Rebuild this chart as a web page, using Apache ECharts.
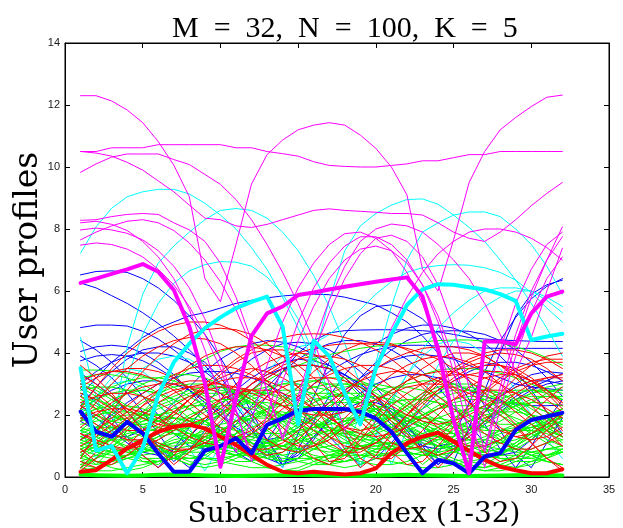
<!DOCTYPE html>
<html><head><meta charset="utf-8">
<script src="https://cdn.jsdelivr.net/npm/echarts@6/dist/echarts.min.js"></script>
<style>html,body{margin:0;padding:0;background:#fff}#c{width:623px;height:528px}</style>
</head><body><div id="c"></div>
<script>
const subcarriers = [1,2,3,4,5,6,7,8,9,10,11,12,13,14,15,16,17,18,19,20,21,22,23,24,25,26,27,28,29,30,31,32];
const xTicks = [0,5,10,15,20,25,30,35];
const yTicks = [0,2,4,6,8,10,12,14];
const titleText = 'M\u2002=\u200232,\u2002N\u2002=\u2002100,\u2002K\u2002=\u20025';
const xLabel = 'Subcarrier index (1-32)';
const yLabel = 'User profiles';

const greenProfiles = [
[0.8,0.4,0.9,1.5,2.1,2.6,3.1,3.5,3.8,4.05,4.2,4.26,4.25,4.2,4.05,3.8,3.5,3.1,2.6,2.1,1.5,0.9,0.4,0.8,1.3,1.8,2.2,2.5,2.7,2.8,2.8,2.7],
[2.0,1.7,1.3,0.9,0.5,0.4,0.8,1.2,1.6,2.0,2.4,2.8,3.1,3.4,3.6,3.8,3.95,4.05,4.15,4.22,4.28,4.32,4.36,4.4,4.42,4.42,4.38,4.32,4.2,4.05,3.85,3.6],
[3.45,3.45,3.42,3.35,3.25,3.1,2.9,2.6,2.3,1.9,1.5,1.1,0.7,0.5,0.6,0.9,1.3,1.7,2.1,2.5,2.8,3.1,3.3,3.45,3.5,3.5,3.45,3.35,3.2,3.0,2.8,2.5],
[1.5,1.9,2.3,2.7,3.0,3.2,3.3,3.3,3.2,3.0,2.7,2.3,1.9,1.4,0.9,0.5,0.4,0.7,1.1,1.5,1.9,2.2,2.5,2.7,2.8,2.8,2.7,2.5,2.2,1.9,1.5,1.1],
[2.4,2.2,2.0,1.8,1.6,1.5,1.5,1.6,1.8,2.0,2.3,2.6,2.8,3.0,3.1,3.1,3.0,2.8,2.5,2.2,1.9,1.6,1.4,1.3,1.3,1.5,1.8,2.1,2.4,2.7,2.9,3.0],
[0.6,0.9,1.2,1.5,1.8,2.0,2.2,2.3,2.3,2.2,2.0,1.8,1.5,1.2,0.9,0.7,0.6,0.7,0.9,1.2,1.5,1.8,2.0,2.2,2.3,2.3,2.2,2.0,1.7,1.4,1.1,0.8],
[1.9,1.6,1.2,0.9,0.6,0.5,0.6,0.9,1.2,1.5,1.8,2.0,2.1,2.1,2.0,1.8,1.5,1.2,0.9,0.7,0.7,0.9,1.2,1.5,1.8,2.1,2.3,2.4,2.4,2.3,2.1,1.8],
[1.1,1.3,1.5,1.7,1.8,1.9,1.9,1.8,1.6,1.4,1.1,0.8,0.6,0.5,0.6,0.9,1.2,1.6,1.9,2.2,2.4,2.5,2.5,2.4,2.2,1.9,1.6,1.3,1.0,0.8,0.7,0.8],
[2.8,2.9,2.9,2.8,2.6,2.3,1.9,1.5,1.1,0.8,0.7,0.9,1.2,1.6,2.0,2.4,2.7,2.9,3.0,3.0,2.9,2.7,2.4,2.0,1.6,1.2,0.9,0.8,0.9,1.2,1.6,2.0],
[0.3,0.6,0.9,1.2,1.4,1.6,1.7,1.7,1.6,1.5,1.3,1.1,1.0,1.0,1.1,1.3,1.5,1.7,1.9,2.0,2.0,1.9,1.7,1.5,1.2,0.9,0.6,0.4,0.3,0.4,0.6,0.9],
[1.7,1.8,1.9,2.0,2.0,2.0,1.9,1.8,1.7,1.6,1.5,1.4,1.4,1.4,1.5,1.6,1.7,1.8,1.9,2.0,2.0,2.0,1.9,1.8,1.7,1.6,1.5,1.5,1.5,1.6,1.7,1.8],
[2.2,2.5,2.7,2.8,2.8,2.7,2.5,2.2,1.8,1.4,1.0,0.7,0.6,0.8,1.1,1.5,1.9,2.3,2.6,2.8,2.9,2.9,2.8,2.6,2.3,2.0,1.6,1.2,0.9,0.7,0.7,0.9],
[0.9,0.7,0.6,0.7,0.9,1.2,1.5,1.8,2.1,2.4,2.6,2.7,2.7,2.6,2.4,2.1,1.8,1.5,1.2,1.0,0.9,0.9,1.0,1.2,1.5,1.8,2.1,2.3,2.5,2.6,2.6,2.5],
[1.3,1.1,0.9,0.8,0.8,0.9,1.1,1.3,1.5,1.7,1.8,1.9,1.9,1.8,1.7,1.5,1.3,1.1,1.0,0.9,0.9,1.0,1.2,1.4,1.6,1.8,2.0,2.1,2.1,2.0,1.9,1.7],
[2.6,2.4,2.1,1.8,1.4,1.0,0.6,0.4,0.6,1.0,1.4,1.8,2.2,2.5,2.7,2.9,3.0,3.0,2.9,2.7,2.4,2.1,1.7,1.3,0.9,0.5,0.4,0.7,1.1,1.5,1.9,2.2],
[0.5,0.4,0.5,0.7,1.0,1.3,1.6,1.9,2.2,2.4,2.6,2.8,2.9,3.0,3.0,2.9,2.8,2.6,2.3,2.0,1.6,1.2,0.9,0.6,0.5,0.6,0.9,1.2,1.5,1.8,2.0,2.2],
[1.6,1.4,1.2,1.0,0.9,0.8,0.8,0.9,1.0,1.2,1.4,1.6,1.8,2.0,2.2,2.3,2.4,2.4,2.4,2.3,2.2,2.0,1.8,1.6,1.4,1.2,1.0,0.9,0.8,0.8,0.9,1.0],
[3.0,2.8,2.5,2.2,1.9,1.6,1.4,1.3,1.3,1.4,1.6,1.9,2.2,2.4,2.6,2.7,2.7,2.6,2.4,2.1,1.8,1.5,1.3,1.2,1.2,1.4,1.7,2.0,2.3,2.5,2.6,2.6],
[0.7,1.0,1.3,1.6,1.9,2.2,2.4,2.6,2.7,2.7,2.6,2.4,2.1,1.8,1.4,1.0,0.7,0.5,0.6,0.9,1.3,1.7,2.0,2.3,2.5,2.6,2.6,2.5,2.3,2.0,1.7,1.4],
[1.2,1.4,1.6,1.7,1.7,1.6,1.4,1.2,0.9,0.7,0.5,0.5,0.7,1.0,1.3,1.6,1.9,2.1,2.2,2.2,2.1,1.9,1.6,1.3,1.0,0.8,0.7,0.8,1.0,1.3,1.6,1.8],
[2.1,1.9,1.6,1.3,1.1,1.0,1.0,1.1,1.3,1.5,1.7,1.9,2.0,2.0,1.9,1.7,1.5,1.3,1.2,1.2,1.3,1.5,1.7,1.9,2.1,2.2,2.2,2.1,1.9,1.7,1.5,1.3],
[0.4,0.3,0.4,0.6,0.8,1.0,1.2,1.3,1.4,1.4,1.3,1.2,1.1,1.0,0.9,0.9,1.0,1.1,1.3,1.5,1.7,1.8,1.9,1.9,1.8,1.6,1.4,1.2,0.9,0.7,0.5,0.4],
[1.8,2.0,2.1,2.1,2.0,1.8,1.6,1.3,1.0,0.8,0.7,0.8,1.0,1.3,1.6,1.9,2.1,2.2,2.2,2.1,1.9,1.6,1.3,1.0,0.8,0.7,0.8,1.1,1.4,1.7,1.9,2.0],
[1.0,0.8,0.7,0.7,0.8,1.0,1.3,1.6,1.9,2.1,2.3,2.4,2.4,2.3,2.1,1.9,1.6,1.3,1.0,0.8,0.7,0.7,0.8,1.0,1.3,1.6,1.9,2.1,2.3,2.4,2.4,2.3],
[2.5,2.3,2.0,1.7,1.4,1.1,0.9,0.8,0.8,0.9,1.1,1.4,1.7,2.0,2.3,2.5,2.6,2.6,2.5,2.3,2.0,1.7,1.4,1.1,0.9,0.8,0.8,0.9,1.1,1.4,1.7,2.0],
[0.2,0.3,0.5,0.7,0.9,1.0,1.1,1.1,1.0,0.9,0.7,0.5,0.3,0.2,0.3,0.5,0.7,0.9,1.0,1.1,1.1,1.0,0.9,0.7,0.5,0.3,0.2,0.3,0.5,0.7,0.9,1.0],
[1.4,1.6,1.8,1.9,1.9,1.8,1.6,1.4,1.2,1.0,0.9,0.9,1.0,1.2,1.4,1.6,1.8,1.9,1.9,1.8,1.6,1.4,1.2,1.0,0.9,0.9,1.0,1.2,1.4,1.6,1.8,1.9],
[0.6,0.5,0.5,0.6,0.7,0.8,0.9,1.0,1.0,1.0,0.9,0.8,0.7,0.6,0.6,0.6,0.7,0.8,0.9,1.0,1.1,1.1,1.1,1.0,0.9,0.8,0.7,0.6,0.6,0.6,0.7,0.8],
[2.9,2.6,2.2,1.8,1.4,1.0,0.7,0.6,0.7,1.0,1.4,1.8,2.2,2.6,2.9,3.1,3.2,3.2,3.1,2.9,2.6,2.2,1.8,1.4,1.0,0.7,0.6,0.7,1.0,1.4,1.8,2.2],
[1.5,1.3,1.0,0.8,0.6,0.6,0.7,0.9,1.2,1.5,1.8,2.0,2.2,2.3,2.3,2.2,2.0,1.8,1.5,1.2,1.0,0.8,0.7,0.7,0.8,1.0,1.2,1.5,1.7,1.9,2.0,2.0],
[0.9,1.1,1.4,1.7,2.0,2.3,2.5,2.7,2.8,2.8,2.7,2.5,2.2,1.9,1.6,1.3,1.0,0.8,0.7,0.7,0.8,1.0,1.3,1.6,1.9,2.1,2.3,2.4,2.4,2.3,2.1,1.9],
[0.3,0.2,0.2,0.3,0.4,0.5,0.6,0.6,0.6,0.5,0.4,0.3,0.3,0.4,0.5,0.6,0.7,0.7,0.7,0.6,0.5,0.4,0.3,0.3,0.4,0.5,0.6,0.7,0.7,0.6,0.5,0.4],
[2.0,2.2,2.3,2.3,2.2,2.0,1.7,1.4,1.1,0.9,0.8,0.9,1.1,1.4,1.7,2.0,2.3,2.5,2.6,2.6,2.5,2.3,2.0,1.7,1.4,1.2,1.1,1.1,1.2,1.4,1.6,1.8],
[1.1,0.9,0.8,0.9,1.1,1.4,1.7,2.0,2.2,2.3,2.3,2.2,2.0,1.7,1.4,1.1,0.9,0.8,0.9,1.1,1.4,1.7,2.0,2.2,2.4,2.5,2.5,2.4,2.2,1.9,1.6,1.3],
[3.2,3.3,3.3,3.2,3.0,2.7,2.3,1.9,1.5,1.2,1.1,1.2,1.5,1.9,2.3,2.6,2.9,3.0,3.0,2.9,2.7,2.4,2.1,1.8,1.6,1.5,1.6,1.8,2.1,2.4,2.7,2.9],
[2.3,2.6,2.9,3.1,3.2,3.2,3.1,2.9,2.6,2.2,1.8,1.4,1.1,0.9,0.9,1.1,1.4,1.8,2.2,2.5,2.8,3.0,3.1,3.1,3.0,2.8,2.5,2.2,1.8,1.5,1.2,1.0],
[1.0,1.2,1.5,1.8,2.1,2.4,2.6,2.8,2.9,2.9,2.8,2.6,2.3,2.0,1.7,1.5,1.4,1.4,1.5,1.7,2.0,2.3,2.6,2.8,2.9,2.9,2.8,2.6,2.3,2.0,1.7,1.4],
[2.7,2.5,2.3,2.1,2.0,2.0,2.1,2.3,2.5,2.7,2.8,2.8,2.7,2.5,2.2,1.9,1.6,1.4,1.3,1.4,1.6,1.9,2.2,2.5,2.7,2.8,2.8,2.7,2.5,2.2,1.9,1.6],
[1.9,2.2,2.5,2.7,2.8,2.7,2.5,2.2,1.8,1.5,1.3,1.3,1.5,1.8,2.1,2.4,2.6,2.7,2.7,2.5,2.2,1.9,1.6,1.4,1.4,1.6,1.9,2.2,2.5,2.7,2.8,2.8],
[0.5,0.7,1.0,1.3,1.6,1.8,1.9,1.9,1.8,1.6,1.3,1.0,0.8,0.7,0.8,1.0,1.3,1.6,1.8,1.9,1.9,1.8,1.6,1.3,1.0,0.8,0.7,0.8,1.0,1.3,1.5,1.7],
[3.1,2.9,2.6,2.3,2.0,1.8,1.7,1.7,1.8,2.0,2.3,2.5,2.7,2.8,2.8,2.7,2.5,2.2,1.9,1.6,1.4,1.3,1.4,1.6,1.9,2.2,2.5,2.7,2.8,2.8,2.7,2.5],
[1.3,1.5,1.8,2.1,2.4,2.7,2.9,3.0,3.0,2.9,2.7,2.4,2.0,1.6,1.2,0.9,0.8,0.9,1.2,1.6,2.0,2.4,2.7,2.9,3.0,3.0,2.9,2.7,2.4,2.0,1.6,1.3],
[2.2,2.0,1.8,1.7,1.7,1.8,2.0,2.2,2.4,2.5,2.5,2.4,2.2,2.0,1.8,1.7,1.7,1.8,2.0,2.2,2.4,2.5,2.5,2.4,2.2,2.0,1.8,1.7,1.7,1.8,2.0,2.2],
[0.8,1.0,1.2,1.4,1.5,1.5,1.4,1.2,1.0,0.8,0.7,0.7,0.8,1.0,1.2,1.4,1.5,1.5,1.4,1.2,1.0,0.8,0.7,0.7,0.8,1.0,1.2,1.4,1.5,1.5,1.4,1.2],
[0.4,0.6,0.8,0.9,0.9,0.8,0.6,0.4,0.3,0.4,0.6,0.8,0.9,0.9,0.8,0.6,0.4,0.3,0.4,0.6,0.8,0.9,0.9,0.8,0.6,0.4,0.3,0.4,0.6,0.8,0.9,0.9],
[1.2,1.0,0.8,0.6,0.5,0.5,0.6,0.8,1.0,1.2,1.3,1.3,1.2,1.0,0.8,0.6,0.5,0.5,0.6,0.8,1.0,1.2,1.3,1.3,1.2,1.0,0.8,0.6,0.5,0.5,0.6,0.8],
[0.1,0.3,0.6,0.9,1.1,1.3,1.4,1.4,1.3,1.1,0.9,0.6,0.4,0.2,0.2,0.4,0.6,0.8,1.0,1.1,1.1,1.0,0.8,0.6,0.4,0.3,0.3,0.5,0.7,0.9,1.1,1.2],
[0.7,0.5,0.3,0.2,0.3,0.5,0.7,0.9,1.1,1.2,1.2,1.1,0.9,0.7,0.5,0.4,0.4,0.5,0.7,0.9,1.0,1.0,0.9,0.7,0.5,0.3,0.2,0.2,0.3,0.5,0.7,0.9],
[1.5,1.6,1.6,1.5,1.3,1.1,0.9,0.7,0.6,0.6,0.7,0.9,1.1,1.3,1.5,1.6,1.6,1.5,1.3,1.1,0.9,0.8,0.7,0.8,0.9,1.1,1.3,1.5,1.6,1.6,1.5,1.3],
[0.9,1.1,1.2,1.2,1.1,0.9,0.7,0.5,0.4,0.5,0.7,0.9,1.1,1.2,1.2,1.1,0.9,0.7,0.5,0.4,0.4,0.5,0.7,0.9,1.1,1.2,1.2,1.1,0.9,0.7,0.5,0.4]
];

const redProfiles = [
[2.2,2.9,3.5,4.0,4.4,4.7,4.9,5.0,5.0,4.9,4.7,4.4,4.0,3.5,2.9,2.3,1.6,0.9,0.3,0.7,1.4,2.0,2.6,3.1,3.5,3.8,4.0,4.1,4.1,4.0,3.8,3.5],
[0.6,1.4,2.1,2.8,3.4,3.9,4.3,4.6,4.75,4.8,4.75,4.6,4.3,3.9,3.4,2.8,2.1,1.4,0.6,0.3,1.0,1.7,2.3,2.8,3.2,3.5,3.6,3.6,3.5,3.2,2.8,2.3],
[3.6,3.2,2.7,2.1,1.5,0.9,0.4,0.8,1.4,2.0,2.5,3.0,3.4,3.7,4.0,4.15,4.25,4.3,4.3,4.28,4.25,4.15,4.0,3.8,3.5,3.1,2.7,2.2,1.7,1.1,0.6,0.3],
[1.4,1.1,0.9,0.9,1.1,1.5,2.0,2.5,3.0,3.4,3.8,4.1,4.35,4.5,4.6,4.62,4.6,4.5,4.35,4.1,3.8,3.4,2.9,2.4,1.8,1.3,0.8,0.5,0.6,1.0,1.5,2.0],
[2.9,3.2,3.4,3.5,3.5,3.4,3.2,2.9,2.5,2.0,1.5,1.0,0.7,0.8,1.2,1.7,2.2,2.7,3.1,3.5,3.8,4.0,4.15,4.2,4.2,4.1,3.9,3.6,3.3,2.9,2.5,2.1],
[1.8,2.4,3.0,3.5,3.9,4.2,4.4,4.5,4.45,4.3,4.0,3.6,3.1,2.5,1.8,1.1,0.5,0.6,1.2,1.8,2.3,2.7,3.0,3.2,3.3,3.3,3.2,3.0,2.7,2.3,1.8,1.3],
[0.3,0.8,1.3,1.8,2.3,2.8,3.2,3.6,3.9,4.1,4.2,4.2,4.1,3.9,3.6,3.2,2.8,2.3,1.8,1.3,0.8,0.4,0.5,1.0,1.6,2.2,2.7,3.1,3.4,3.6,3.7,3.7],
[3.3,3.0,2.6,2.2,1.9,1.7,1.6,1.7,1.9,2.2,2.6,3.0,3.3,3.6,3.8,3.9,3.9,3.8,3.6,3.3,2.9,2.5,2.0,1.6,1.2,1.0,1.0,1.2,1.6,2.0,2.5,2.9],
[2.6,2.2,1.7,1.2,0.7,0.3,0.7,1.3,1.9,2.5,3.0,3.4,3.7,3.9,4.0,3.95,3.8,3.5,3.1,2.6,2.0,1.4,0.8,0.3,0.8,1.5,2.1,2.7,3.2,3.6,3.9,4.0],
[1.2,1.5,1.9,2.3,2.7,3.0,3.3,3.5,3.6,3.6,3.5,3.3,3.0,2.6,2.2,1.7,1.3,1.0,0.9,1.1,1.5,2.0,2.5,3.0,3.4,3.7,3.9,4.0,3.95,3.8,3.5,3.1],
[2.4,2.6,2.7,2.7,2.6,2.4,2.1,1.8,1.5,1.3,1.3,1.5,1.9,2.4,2.9,3.4,3.8,4.1,4.3,4.35,4.3,4.1,3.8,3.4,2.9,2.4,1.9,1.5,1.3,1.4,1.7,2.1],
[0.9,0.5,0.4,0.7,1.1,1.6,2.1,2.5,2.9,3.1,3.2,3.2,3.1,2.9,2.6,2.2,1.9,1.6,1.5,1.6,1.9,2.3,2.7,3.1,3.4,3.6,3.7,3.6,3.4,3.1,2.7,2.2],
[3.0,2.7,2.3,1.9,1.4,1.0,0.8,0.9,1.3,1.8,2.3,2.8,3.2,3.5,3.6,3.6,3.5,3.2,2.8,2.3,1.8,1.3,0.9,0.7,0.9,1.3,1.8,2.3,2.7,3.0,3.2,3.3],
[1.6,2.0,2.4,2.7,2.9,3.0,3.0,2.9,2.7,2.4,2.0,1.6,1.2,0.9,0.8,1.0,1.4,1.9,2.4,2.9,3.3,3.6,3.8,3.9,3.85,3.7,3.4,3.0,2.5,2.0,1.5,1.0],
[0.2,0.6,1.1,1.6,2.0,2.4,2.7,2.9,3.0,3.0,2.9,2.7,2.5,2.3,2.1,2.0,2.0,2.1,2.3,2.5,2.7,2.9,3.0,3.0,2.9,2.7,2.4,2.0,1.6,1.1,0.6,0.2],
[2.0,1.7,1.4,1.2,1.2,1.4,1.8,2.3,2.8,3.3,3.7,4.0,4.1,4.1,3.9,3.6,3.1,2.6,2.0,1.5,1.1,0.9,1.0,1.3,1.8,2.3,2.8,3.2,3.5,3.7,3.8,3.8],
[1.0,1.3,1.7,2.1,2.5,2.8,3.0,3.1,3.1,3.0,2.8,2.5,2.1,1.6,1.1,0.6,0.4,0.8,1.4,2.0,2.6,3.1,3.5,3.8,4.0,4.0,3.9,3.6,3.2,2.7,2.1,1.5],
[2.7,2.5,2.2,1.8,1.4,1.1,0.9,0.9,1.1,1.4,1.8,2.2,2.6,2.9,3.1,3.2,3.2,3.1,2.9,2.6,2.3,2.0,1.8,1.7,1.8,2.0,2.3,2.6,2.9,3.1,3.2,3.2],
[0.5,0.3,0.6,1.0,1.5,1.9,2.3,2.6,2.8,2.9,2.9,2.8,2.6,2.3,1.9,1.5,1.1,0.8,0.8,1.1,1.5,2.0,2.4,2.8,3.1,3.3,3.4,3.4,3.3,3.1,2.8,2.4],
[1.9,2.1,2.2,2.2,2.1,1.9,1.6,1.3,1.1,1.0,1.1,1.4,1.8,2.2,2.6,3.0,3.3,3.5,3.6,3.6,3.5,3.3,3.0,2.6,2.2,1.8,1.4,1.1,0.9,0.9,1.1,1.4],
[3.1,3.3,3.4,3.4,3.3,3.1,2.8,2.4,2.0,1.6,1.2,0.9,0.9,1.1,1.5,1.9,2.4,2.8,3.1,3.3,3.4,3.4,3.3,3.1,2.8,2.4,2.0,1.6,1.3,1.2,1.3,1.6],
[1.4,1.2,1.0,0.9,1.0,1.2,1.5,1.9,2.2,2.5,2.7,2.8,2.8,2.7,2.5,2.2,1.9,1.6,1.4,1.3,1.4,1.6,1.9,2.2,2.5,2.7,2.8,2.8,2.7,2.5,2.2,1.9],
[2.3,2.0,1.7,1.5,1.5,1.7,2.1,2.5,2.9,3.2,3.4,3.5,3.4,3.2,2.9,2.5,2.0,1.5,1.0,0.6,0.6,1.0,1.5,2.0,2.5,2.9,3.2,3.3,3.3,3.1,2.8,2.4],
[0.8,1.1,1.5,1.9,2.3,2.6,2.8,2.9,2.9,2.7,2.4,2.0,1.6,1.2,1.0,1.0,1.2,1.6,2.0,2.4,2.8,3.1,3.3,3.4,3.4,3.2,2.9,2.5,2.1,1.7,1.3,1.0]
];

const blueProfiles = [
[6.52,6.63,6.65,6.6,6.4,6.1,5.7,5.2,4.6,3.85,3.0,2.1,1.2,0.4,0.9,1.8,2.6,3.3,3.9,4.3,4.6,4.8,4.9,4.9,4.8,4.6,4.3,3.9,3.4,2.8,2.1,1.4],
[6.26,6.1,5.85,5.6,5.3,4.95,4.55,4.1,3.6,3.0,2.3,1.6,0.8,0.3,1.4,2.6,3.7,4.6,5.2,5.5,5.55,5.4,5.1,4.6,3.9,3.1,2.3,1.5,0.7,0.3,1.1,1.9],
[4.82,4.9,4.9,4.87,4.7,4.45,4.1,3.7,3.2,2.7,2.1,1.5,0.9,0.4,0.6,1.2,1.9,2.6,3.2,3.7,4.1,4.4,4.6,4.7,4.72,4.7,4.6,4.4,4.1,3.7,3.2,2.6],
[2.6,3.2,3.7,4.1,4.5,4.8,5.0,5.2,5.3,5.45,5.6,5.7,5.78,5.84,5.88,5.9,5.88,5.8,5.68,5.55,5.3,5.0,4.55,4.0,3.3,2.5,1.7,0.9,0.3,1.0,1.8,2.5],
[3.0,3.4,3.7,3.9,4.0,4.0,3.9,3.7,3.4,3.0,2.5,2.0,2.6,3.4,4.0,4.4,4.65,4.72,4.74,4.75,4.75,4.74,4.72,4.68,4.6,4.5,4.45,4.42,4.4,4.38,4.37,4.37],
[2.3,2.9,3.4,3.8,4.1,4.2,4.2,4.0,3.7,3.2,2.6,1.9,1.2,0.5,0.7,1.3,1.8,2.2,2.4,2.4,2.2,1.8,1.6,0.8,1.3,2.4,3.4,4.4,5.15,5.75,6.15,6.4],
[3.9,3.6,3.2,2.7,2.1,1.4,0.7,0.3,1.0,1.7,2.3,2.8,3.2,3.5,3.6,3.6,3.5,3.3,3.0,2.6,2.1,1.6,1.1,0.6,0.5,1.6,2.8,4.0,5.2,5.9,6.2,6.35],
[4.05,4.2,4.25,4.2,4.0,3.7,3.3,2.8,2.2,1.5,0.8,0.5,1.2,1.9,2.5,3.0,3.4,3.7,3.95,4.1,4.2,4.25,4.25,4.22,4.2,4.18,4.16,4.15,4.15,4.15,4.15,4.15],
[3.35,3.0,2.6,2.1,1.6,1.0,0.5,0.9,1.5,2.1,2.6,3.0,3.3,3.5,3.6,3.6,3.5,3.3,3.0,2.6,2.1,1.5,0.9,0.4,0.9,1.5,2.1,2.6,3.0,3.3,3.4,3.35],
[3.75,3.9,3.95,3.9,3.75,3.5,3.2,2.8,2.4,2.0,1.6,1.3,1.2,1.3,1.6,2.0,2.4,2.8,3.2,3.5,3.75,3.9,3.95,3.9,3.8,3.6,3.4,3.2,3.0,2.9,2.85,2.8],
[2.85,2.4,1.9,1.3,0.7,0.3,0.9,1.6,2.3,2.9,3.4,3.8,4.1,4.3,4.35,4.3,4.1,3.8,3.4,2.9,2.3,1.7,1.0,0.4,0.8,1.5,2.1,2.6,2.9,3.1,3.1,3.0],
[2.2,2.5,2.8,3.0,3.1,3.1,3.0,2.8,2.5,2.1,1.6,1.1,0.6,0.4,0.8,1.3,1.8,2.3,2.7,3.0,3.2,3.3,3.3,3.2,3.0,2.8,2.6,2.45,2.35,2.3,2.3,2.32],
[2.3,1.9,1.5,1.1,0.8,0.7,0.9,1.3,1.8,2.3,2.8,3.2,3.5,3.7,3.8,3.75,3.6,3.3,2.9,2.5,2.0,1.6,1.2,1.0,1.1,1.4,1.8,2.2,2.6,2.9,3.1,3.34],
[4.4,4.1,3.7,3.2,2.6,2.0,1.4,1.0,0.9,1.2,1.7,2.3,2.9,3.4,3.8,4.1,4.3,4.4,4.4,4.3,4.1,3.8,3.4,2.9,2.3,1.7,1.1,0.7,0.8,1.2,1.7,2.1],
[1.2,1.6,2.0,2.4,2.7,3.0,3.2,3.35,3.4,3.4,3.35,3.2,3.0,2.7,2.3,1.8,1.3,0.8,0.4,0.6,1.1,1.7,2.2,2.7,3.1,3.4,3.6,3.7,3.7,3.6,3.4,3.1],
[1.8,1.5,1.3,1.3,1.5,1.9,2.4,2.9,3.4,3.8,4.1,4.3,4.4,4.35,4.2,3.95,3.6,3.2,2.7,2.2,1.7,1.3,1.0,0.9,1.0,1.3,1.7,2.1,2.5,2.8,3.0,3.1]
];

const cyanProfiles = [
[7.22,8.07,8.67,9.04,9.2,9.28,9.28,9.13,8.83,8.45,8.0,7.4,6.7,5.8,4.8,3.7,2.6,1.5,0.4,1.3,2.4,3.3,4.1,4.8,5.3,5.7,6.0,6.1,6.1,6.0,5.7,5.3],
[4.5,2.6,1.4,4.2,5.9,6.9,7.45,7.9,8.3,8.6,8.66,8.6,8.35,7.9,7.3,6.5,5.5,4.3,3.0,1.6,0.4,1.5,2.6,3.6,4.4,5.0,5.5,5.8,6.0,6.0,5.8,5.5],
[0.6,1.5,2.3,3.0,3.5,3.8,3.9,3.8,3.5,3.0,2.4,1.7,0.9,0.3,1.8,3.8,5.7,7.3,8.1,8.5,8.77,8.95,8.97,8.8,8.45,8.05,7.6,7.0,6.35,5.6,4.8,3.9],
[1.8,2.6,3.2,3.5,3.4,3.0,2.4,1.6,0.7,0.5,1.4,2.2,2.8,3.1,3.0,2.6,1.8,0.9,2.0,3.7,5.5,7.0,7.9,8.2,8.45,8.55,8.55,8.4,8.0,7.5,6.8,5.9],
[2.0,2.6,3.0,3.1,2.9,2.4,1.7,0.9,0.2,1.0,1.9,2.7,3.4,3.9,4.2,4.3,4.6,5.0,5.4,5.9,6.3,6.6,6.75,6.82,6.85,6.83,6.75,6.6,6.35,5.95,5.45,5.0],
[1.5,0.6,1.6,3.2,4.6,5.6,6.25,6.65,6.85,6.95,6.93,6.8,6.45,5.9,5.1,4.0,2.7,1.3,0.3,1.4,2.5,3.3,3.9,4.3,4.4,4.3,4.0,3.5,2.8,2.0,1.2,0.6]
];

const magentaProfiles = [
[12.3,12.3,12.13,11.84,11.43,10.82,10.06,9.04,6.4,5.65,7.5,9.45,10.4,10.87,11.2,11.35,11.43,11.35,11.03,10.6,10.0,9.1,6.7,6.0,7.65,9.5,10.5,11.2,11.6,11.95,12.25,12.32],
[10.5,10.5,10.62,10.62,10.62,10.72,10.72,10.72,10.72,10.72,10.62,10.62,10.5,10.43,10.35,10.17,10.05,10.02,10.0,10.0,10.05,10.1,10.2,10.2,10.3,10.4,10.4,10.5,10.5,10.5,10.5,10.5],
[10.5,10.45,10.35,10.15,9.9,9.55,9.2,8.77,8.35,8.3,8.1,8.05,8.15,8.3,8.45,8.6,8.65,8.6,8.57,8.54,8.5,8.5,8.45,8.2,7.9,7.7,7.6,7.9,8.3,8.75,9.15,9.5],
[9.83,10.1,10.32,10.42,10.42,10.42,10.24,10.08,9.76,9.44,8.95,8.3,7.5,6.6,5.6,4.4,3.0,1.5,2.2,3.6,4.8,5.8,6.6,7.2,7.6,7.9,8.0,8.0,7.9,7.7,7.4,7.0],
[8.28,8.3,8.4,8.47,8.5,8.47,8.2,7.97,7.6,6.9,5.8,4.4,2.8,1.2,2.4,4.0,5.3,6.4,7.2,7.7,7.8,7.6,7.1,6.2,4.8,2.9,0.8,2.6,4.3,5.8,7.0,8.07],
[7.97,8.03,7.97,7.86,7.65,7.3,6.8,6.1,5.1,3.8,2.2,0.5,2.0,3.6,5.0,6.1,6.9,7.45,7.75,7.75,7.5,7.0,6.2,5.0,3.4,1.4,0.9,2.9,4.6,6.0,7.0,7.75],
[7.65,7.9,8.1,8.25,8.3,8.2,7.95,7.55,7.0,6.3,5.4,4.2,2.8,1.3,2.6,4.3,5.7,6.8,7.6,8.0,8.16,8.1,7.9,7.5,7.0,6.4,5.6,4.6,3.4,4.5,6.0,7.38],
[7.48,7.55,7.5,7.35,7.1,6.7,6.2,5.5,4.6,3.5,2.1,0.7,1.6,3.1,4.4,5.5,6.4,7.0,7.35,7.45,7.3,6.9,6.2,5.2,3.8,2.0,0.3,2.2,3.9,5.3,6.4,7.1],
[8.2,8.25,8.15,7.95,7.6,7.1,6.4,5.4,4.1,2.5,0.8,1.8,3.6,5.0,6.1,6.9,7.5,7.85,7.9,7.7,7.3,6.6,5.6,4.3,2.6,0.6,2.3,4.1,5.6,6.7,7.5,7.9]
];

const greenBold = [0.08,0.06,0.05,0.04,0.05,0.07,0.08,0.07,0.05,0.04,0.03,0.04,0.05,0.06,0.07,0.06,0.05,0.04,0.04,0.05,0.06,0.07,0.06,0.05,0.04,0.03,0.04,0.05,0.06,0.07,0.06,0.05];
const redBold = [0.17,0.22,0.55,0.92,1.19,1.46,1.62,1.68,1.57,1.3,1.03,0.71,0.39,0.17,0.12,0.17,0.12,0.08,0.12,0.28,0.77,1.09,1.3,1.43,1.14,0.85,0.55,0.33,0.22,0.12,0.12,0.25];
const blueBold = [2.11,1.46,1.3,1.78,1.41,0.76,0.17,0.17,0.85,1.0,1.25,0.76,1.68,1.89,2.14,2.19,2.19,2.19,2.1,1.89,1.46,0.77,0.12,0.55,0.44,0.12,0.66,0.77,1.52,1.84,1.95,2.07];
const cyanBold = [3.51,0.85,1.0,0.12,0.93,2.65,3.7,4.3,4.8,5.15,5.45,5.65,5.82,4.85,1.7,4.4,3.9,2.7,1.7,3.5,4.6,5.55,6.05,6.22,6.2,6.12,6.05,5.9,5.68,4.42,4.53,4.62];
const magentaBold = [6.26,6.4,6.55,6.7,6.87,6.62,6.03,4.85,3.03,0.33,2.55,4.55,5.28,5.5,5.87,5.95,6.05,6.14,6.22,6.3,6.37,6.44,5.82,4.1,1.84,0.12,4.37,4.37,4.28,5.28,5.82,5.98];

const colors = {green:'#00ff00', red:'#ff0000', blue:'#0000ff', cyan:'#00ffff', magenta:'#ff00ff'};

function pts(row){ return row.map(function(v,i){ return [subcarriers[i], v]; }); }
const series = [];
function add(row, color, width, z){
  series.push({type:'line', data:pts(row), symbol:'none', silent:true, animation:false,
    lineStyle:{color:color, width:width, cap:'round', join:'round'}, itemStyle:{color:color}, z:z, xAxisIndex:0, yAxisIndex:0});
}
blueProfiles.forEach(function(r){ add(r, colors.blue, 1, 2); });
cyanProfiles.forEach(function(r){ add(r, colors.cyan, 1, 3); });
greenProfiles.forEach(function(r){ add(r, colors.green, 1, 4); });
redProfiles.forEach(function(r){ add(r, colors.red, 1, 5); });
magentaProfiles.forEach(function(r){ add(r, colors.magenta, 1, 6); });
add(greenBold, colors.green, 4, 7);
add(redBold, colors.red, 4, 8);
add(blueBold, colors.blue, 4, 9);
add(cyanBold, colors.cyan, 4, 10);
add(magentaBold, colors.magenta, 4, 11);
series.push({type:'line', xAxisIndex:1, yAxisIndex:1, data:[], silent:true});

const tickLabelStyle = {color:'#1a1a1a', fontSize:11, fontFamily:'Liberation Sans, Arial, sans-serif'};
function axisLine(){ return {show:true, onZero:false, lineStyle:{color:'#000', width:1}}; }
function axisTick(){ return {show:true, inside:true, length:5, lineStyle:{color:'#000', width:1}}; }
const serifFont = 'DejaVu Serif, Liberation Serif, serif';

const chart = echarts.init(document.getElementById('c'), null, {renderer:'canvas'});
chart.setOption({
  animation:false,
  backgroundColor:'#fff',
  title:{text:titleText, left:172, top:14, padding:0,
    textStyle:{fontFamily:'Liberation Serif, serif', fontSize:30, fontWeight:'normal', color:'#000'}},
  grid:{left:65, right:14, top:43, bottom:51, containLabel:false, outerBoundsMode:'none',
    show:true, borderColor:'#000', borderWidth:1, backgroundColor:'rgba(0,0,0,0)'},
  xAxis:[
    {type:'value', min:xTicks[0], max:xTicks[xTicks.length-1], interval:5, position:'bottom',
     axisLine:axisLine(), axisTick:axisTick(), splitLine:{show:false},
     axisLabel:Object.assign({margin:7}, tickLabelStyle),
     name:xLabel, nameLocation:'middle', nameGap:24, nameMoveOverlap:false,
     nameTextStyle:{fontFamily:serifFont, fontSize:28, color:'#000', padding:[0,0,0,34]}},
    {type:'value', min:xTicks[0], max:xTicks[xTicks.length-1], interval:5, position:'top',
     axisLine:axisLine(), axisTick:axisTick(), splitLine:{show:false}, axisLabel:{show:false}}
  ],
  yAxis:[
    {type:'value', min:yTicks[0], max:yTicks[yTicks.length-1], interval:2, position:'left',
     axisLine:axisLine(), axisTick:axisTick(), splitLine:{show:false},
     axisLabel:Object.assign({margin:5}, tickLabelStyle),
     name:yLabel, nameLocation:'middle', nameGap:20, nameMoveOverlap:false,
     nameTextStyle:{fontFamily:serifFont, fontSize:33, color:'#000'}},
    {type:'value', min:yTicks[0], max:yTicks[yTicks.length-1], interval:2, position:'right',
     axisLine:axisLine(), axisTick:axisTick(), splitLine:{show:false}, axisLabel:{show:false}}
  ],
  series:series
});
</script></body></html>
